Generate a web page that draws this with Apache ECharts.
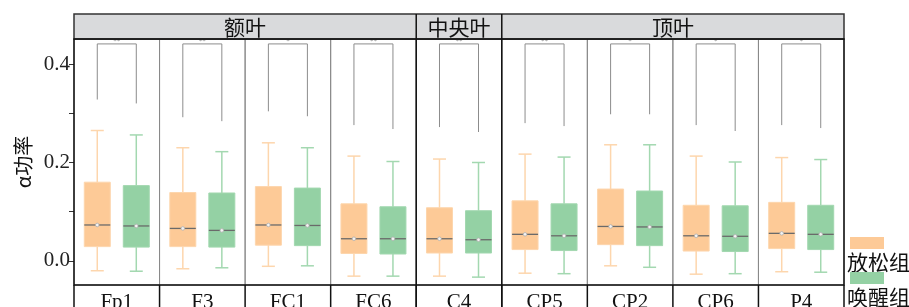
<!DOCTYPE html>
<html>
<head>
<meta charset="utf-8">
<script src="https://cdn.jsdelivr.net/npm/echarts@6/dist/echarts.min.js"></script>
<style>
  html, body { margin: 0; padding: 0; background: #fff; }
  #chart { width: 909px; height: 307px; }
</style>
</head>
<body>
<div id="chart"></div>
<script>
// 电极与脑区
const regions = ['Fp1', 'F3', 'FC1', 'FC6', 'C4', 'CP5', 'CP2', 'CP6', 'P4'];
const lobeNames = ['额叶', '中央叶', '顶叶'];
const lobeSpans = [4, 1, 4];
const groupNames = ['放松组', '唤醒组'];

// 箱线数据: [下须, Q1, 中位数, Q3, 上须]
const relaxStats = [
  [-0.020, 0.029, 0.073, 0.160, 0.265],
  [-0.016, 0.029, 0.066, 0.139, 0.230],
  [-0.011, 0.032, 0.073, 0.151, 0.240],
  [-0.031, 0.015, 0.045, 0.116, 0.213],
  [-0.031, 0.016, 0.045, 0.108, 0.207],
  [-0.025, 0.023, 0.054, 0.122, 0.217],
  [-0.010, 0.033, 0.070, 0.146, 0.236],
  [-0.027, 0.020, 0.051, 0.113, 0.213],
  [-0.022, 0.025, 0.056, 0.119, 0.210]
];
const arousalStats = [
  [-0.021, 0.028, 0.071, 0.153, 0.256],
  [-0.014, 0.028, 0.062, 0.138, 0.222],
  [-0.010, 0.031, 0.072, 0.148, 0.230],
  [-0.031, 0.014, 0.045, 0.110, 0.202],
  [-0.033, 0.016, 0.043, 0.102, 0.200],
  [-0.026, 0.021, 0.051, 0.116, 0.211],
  [-0.013, 0.031, 0.069, 0.142, 0.236],
  [-0.026, 0.019, 0.050, 0.112, 0.201],
  [-0.023, 0.023, 0.054, 0.113, 0.206]
];

// 显著性标记
const sigMarks = ['**', '**', '*', '**', '**', '**', '*', '*', '*'];
const bracketLeft = [0.328, 0.292, 0.304, 0.276, 0.272, 0.280, 0.298, 0.276, 0.276];
const bracketRight = [0.320, 0.284, 0.294, 0.268, 0.262, 0.274, 0.298, 0.264, 0.270];
const bracketTop = 0.441;

// y 轴刻度
const yTicks = [0, 0.1, 0.2, 0.3, 0.4];
const yLabels = [0, 0.2, 0.4];

// 布局
const plotLeft = 74, plotTop = 39, plotBottom = 285, plotRight = 844;
const panelW = (plotRight - plotLeft) / regions.length;
const stripTop = 14;
const boxPos = [0.272, 0.728];
const fills = ['#fdca97', '#94d1a4'];
const whiskers = ['#fdd6ad', '#a3d8b0'];
const serif = '"Liberation Serif", "DejaVu Serif", "Noto Sans CJK SC", serif';
const cjk = '"Noto Sans CJK SC", "Liberation Serif", sans-serif';

const makeBoxRender = (gi) => (params, api) => {
  const x = api.value(0);
  const lo = api.coord([x, api.value(1)]);
  const q1 = api.coord([x, api.value(2)]);
  const md = api.coord([x, api.value(3)]);
  const q3 = api.coord([x, api.value(4)]);
  const hi = api.coord([x, api.value(5)]);
  const c = lo[0], bw = 26, cw = 13;
  const wStyle = { stroke: whiskers[gi], lineWidth: 1.5 };
  return {
    type: 'group',
    children: [
      { type: 'line', shape: { x1: c, y1: hi[1], x2: c, y2: q3[1] }, style: wStyle },
      { type: 'line', shape: { x1: c, y1: q1[1], x2: c, y2: lo[1] }, style: wStyle },
      { type: 'line', shape: { x1: c - cw / 2, y1: hi[1], x2: c + cw / 2, y2: hi[1] }, style: wStyle },
      { type: 'line', shape: { x1: c - cw / 2, y1: lo[1], x2: c + cw / 2, y2: lo[1] }, style: wStyle },
      { type: 'rect', shape: { x: c - bw / 2, y: q3[1], width: bw, height: q1[1] - q3[1] },
        style: { fill: fills[gi], stroke: whiskers[gi], lineWidth: 1 } },
      { type: 'line', shape: { x1: c - bw / 2, y1: md[1], x2: c + bw / 2, y2: md[1] },
        style: { stroke: '#6a6a6a', lineWidth: 1.3 } },
      { type: 'circle', shape: { cx: c, cy: md[1], r: 1.8 },
        style: { fill: '#f4f4f4', stroke: '#b0b0b0', lineWidth: 0.8 } }
    ]
  };
};

const makeBracketRender = (i) => (params, api) => {
  const l = api.coord([api.value(0), api.value(2)]);
  const r = api.coord([api.value(1), api.value(3)]);
  const t = api.coord([api.value(0), api.value(4)]);
  return {
    type: 'group',
    children: [
      { type: 'polyline', shape: { points: [[l[0], l[1]], [l[0], t[1]], [r[0], t[1]], [r[0], r[1]]] },
        style: { stroke: '#8c8c8c', lineWidth: 1, fill: null } },
      { type: 'text', x: (l[0] + r[0]) / 2, y: t[1] + 1,
        style: { text: sigMarks[i], fill: '#888', fontSize: 7,
          align: 'center', verticalAlign: 'bottom', fontFamily: serif } }
    ]
  };
};

const grids = [], xAxes = [], yAxes = [], series = [];
regions.forEach((reg, i) => {
  grids.push({
    left: plotLeft + i * panelW, top: plotTop, width: panelW, height: plotBottom - plotTop,
    outerBoundsMode: 'none', containLabel: false,
    show: true, borderColor: '#8a8a8a', borderWidth: 1, backgroundColor: 'transparent'
  });
  xAxes.push({
    gridIndex: i, type: 'value', min: 0, max: 1,
    name: reg, nameLocation: 'middle', nameGap: 7,
    nameTextStyle: { fontFamily: serif, fontSize: 21, color: '#111', verticalAlign: 'top' },
    axisLine: { show: false }, axisTick: { show: false }, axisLabel: { show: false }, splitLine: { show: false }
  });
  yAxes.push({
    gridIndex: i, type: 'value', min: -0.049, max: 0.451,
    name: i === 0 ? 'α功率' : '', nameLocation: 'middle', nameGap: 41,
    nameTextStyle: { fontFamily: cjk, fontSize: 20, color: '#111' },
    axisLine: { show: false },
    axisTick: { show: i === 0, length: 5, customValues: yTicks, lineStyle: { color: '#333' } },
    axisLabel: { show: i === 0, customValues: yLabels, margin: 4, fontFamily: serif, fontSize: 21, color: '#222',
      formatter: (v) => v.toFixed(1) },
    splitLine: { show: false }
  });
  [relaxStats, arousalStats].forEach((stats, gi) => {
    series.push({
      name: groupNames[gi], type: 'custom', xAxisIndex: i, yAxisIndex: i,
      renderItem: makeBoxRender(gi), silent: true,
      data: [[boxPos[gi]].concat(stats[i])]
    });
  });
  series.push({
    type: 'custom', xAxisIndex: i, yAxisIndex: i, renderItem: makeBracketRender(i), silent: true, z: 3,
    data: [[boxPos[0], boxPos[1], bracketLeft[i], bracketRight[i], bracketTop]]
  });
});

// 分面条带与边框
const graphics = [];
graphics.push({ type: 'rect', z: 100, shape: { x: plotLeft, y: stripTop, width: plotRight - plotLeft, height: plotTop - stripTop },
  style: { fill: '#d9dadc', stroke: '#333', lineWidth: 1.5 } });
let acc = 0;
lobeNames.forEach((nm, k) => {
  const x0 = plotLeft + acc * panelW;
  const x1 = plotLeft + (acc + lobeSpans[k]) * panelW;
  graphics.push({ type: 'text', z: 101, x: (x0 + x1) / 2, y: (stripTop + plotTop) / 2 + 1,
    style: { text: nm, fontFamily: cjk, fontSize: 21, fill: '#111', align: 'center', verticalAlign: 'middle' } });
  if (k > 0) {
    graphics.push({ type: 'line', z: 101, shape: { x1: x0, y1: stripTop, x2: x0, y2: 307 },
      style: { stroke: '#111', lineWidth: 1.5 } });
  }
  acc += lobeSpans[k];
});
graphics.push({ type: 'rect', z: 101, shape: { x: plotLeft, y: plotTop, width: plotRight - plotLeft, height: plotBottom - plotTop },
  style: { fill: null, stroke: '#111', lineWidth: 1.5 } });
for (let i = 0; i <= regions.length; i++) {
  const x = plotLeft + i * panelW;
  graphics.push({ type: 'line', z: 101, shape: { x1: x, y1: plotBottom, x2: x, y2: 307 },
    style: { stroke: '#111', lineWidth: 1.5 } });
}
// 图例
groupNames.forEach((nm, gi) => {
  const y0 = 237 + gi * 35;
  graphics.push({ type: 'rect', z: 101, shape: { x: 850, y: y0, width: 34, height: 12 }, style: { fill: fills[gi] } });
  graphics.push({ type: 'text', z: 101, x: 847, y: y0 + 25,
    style: { text: nm, fontFamily: cjk, fontSize: 21, fill: '#111', align: 'left', verticalAlign: 'middle' } });
});

const chart = echarts.init(document.getElementById('chart'));
chart.setOption({
  animation: false,
  grid: grids,
  xAxis: xAxes,
  yAxis: yAxes,
  series: series,
  graphic: graphics
});
</script>
</body>
</html>
